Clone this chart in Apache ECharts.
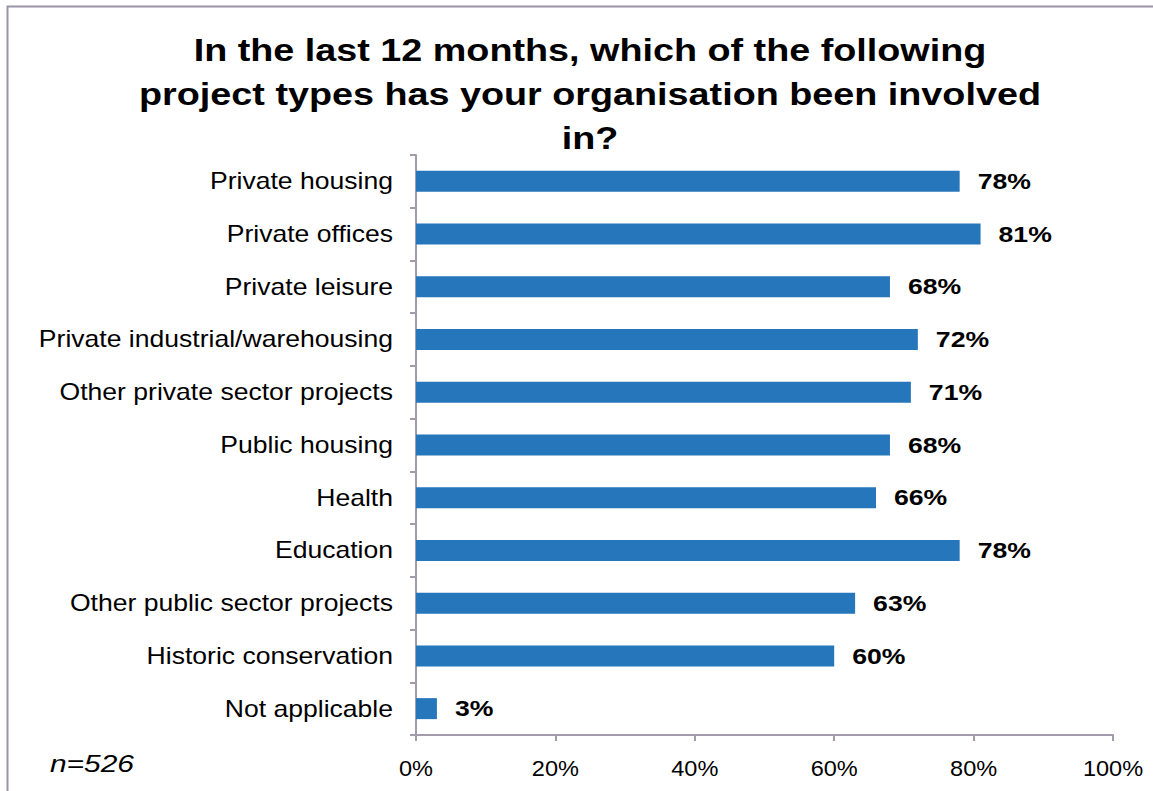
<!DOCTYPE html>
<html>
<head>
<meta charset="utf-8">
<script src="https://cdn.jsdelivr.net/npm/echarts@6/dist/echarts.min.js"></script>
<style>
  html, body { margin: 0; padding: 0; background: #ffffff; }
  #chart { width: 1153px; height: 791px; }
</style>
</head>
<body>
<div id="chart"></div>
<script>
// Project types, top to bottom
const categories = [
  'Private housing',
  'Private offices',
  'Private leisure',
  'Private industrial/warehousing',
  'Other private sector projects',
  'Public housing',
  'Health',
  'Education',
  'Other public sector projects',
  'Historic conservation',
  'Not applicable'
];
// Share of organisations (%)
const shares = [78, 81, 68, 72, 71, 68, 66, 78, 63, 60, 3];
const tickValues = [0, 20, 40, 60, 80, 100];
const titleText = 'In the last 12 months, which of the following\nproject types has your organisation been involved\nin?';
const sampleNote = 'n=526';

const FONT = 'Liberation Sans, Arial, sans-serif';
const axisColor = '#a39aab';
const barColor = '#2676bc';

const chart = echarts.init(document.getElementById('chart'), null, { renderer: 'svg' });
chart.setOption({
  animation: false,
  backgroundColor: '#ffffff',
  title: {
    text: titleText,
    left: 585,
    top: 23,
    textAlign: 'center',
    textStyle: {
      fontFamily: FONT,
      fontWeight: 'bold',
      fontSize: 32,
      lineHeight: 44,
      color: '#000000'
    }
  },
  graphic: [
    {
      type: 'rect',
      shape: { x: 7.5, y: 6.5, width: 1160, height: 800 },
      style: { fill: null, stroke: '#9c92a5', lineWidth: 2 },
      silent: true
    },
    {
      type: 'text',
      left: 50,
      top: 753,
      style: {
        text: sampleNote,
        font: 'italic 23px "Liberation Sans", Arial, sans-serif',
        fill: '#000000'
      }
    }
  ],
  grid: { left: 416, right: 40, top: 155, bottom: 56, containLabel: false },
  xAxis: {
    type: 'value',
    min: 0,
    max: 100,
    interval: 20,
    axisLine: { show: true, lineStyle: { color: axisColor, width: 2 } },
    axisTick: { show: true, length: 6, lineStyle: { color: axisColor, width: 2 } },
    splitLine: { show: false },
    axisLabel: {
      margin: 22,
      fontFamily: FONT,
      fontSize: 22,
      color: '#000000',
      formatter: v => tickValues.includes(v) ? v + '%' : ''
    }
  },
  yAxis: {
    type: 'category',
    inverse: true,
    data: categories,
    axisLine: { show: true, lineStyle: { color: axisColor, width: 2 } },
    axisTick: { show: true, length: 6, lineStyle: { color: axisColor, width: 2 } },
    axisLabel: {
      margin: 23,
      fontFamily: FONT,
      fontSize: 23,
      color: '#000000'
    }
  },
  series: [{
    type: 'bar',
    data: shares,
    barWidth: 21,
    itemStyle: { color: barColor },
    label: {
      show: true,
      position: 'right',
      distance: 18,
      formatter: p => p.value + '%',
      fontFamily: FONT,
      fontWeight: 'bold',
      fontSize: 22,
      color: '#000000'
    }
  }]
});

// Widen the lettering horizontally about each text's anchor point
function widenTexts() {
  document.querySelectorAll('#chart text').forEach(t => {
    const prev = t.getAttribute('transform') || '';
    if (prev.indexOf('scale(') !== -1) return;
    const cs = getComputedStyle(t);
    const size = parseFloat(cs.fontSize);
    const bold = parseInt(cs.fontWeight, 10) >= 600 || cs.fontWeight === 'bold';
    const italic = cs.fontStyle === 'italic';
    let s;
    if (italic) s = 1.3;
    else if (bold && size >= 30) s = 1.18;
    else if (bold) s = 1.21;
    else if (size >= 23) s = 1.155;
    else s = 1.07;
    const bb = t.getBBox();
    const anchor = t.getAttribute('text-anchor') || cs.textAnchor;
    const ax = anchor === 'end' ? bb.x + bb.width
      : anchor === 'middle' ? bb.x + bb.width / 2 : bb.x;
    t.setAttribute('transform',
      (prev ? prev + ' ' : '') + 'translate(' + ax + ' 0) scale(' + s + ' 1) translate(' + (-ax) + ' 0)');
  });
}
widenTexts();
chart.on('finished', widenTexts);
</script>
</body>
</html>
